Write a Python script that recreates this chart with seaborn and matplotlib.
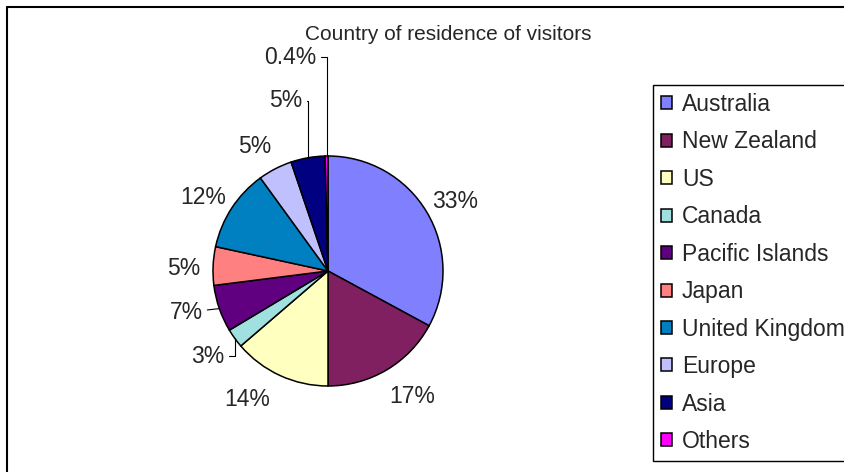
import numpy as np
import seaborn as sns
import matplotlib.pyplot as plt
from matplotlib.lines import Line2D

# data (percent of visitors)
countries = ['Australia', 'New Zealand', 'US', 'Canada', 'Pacific Islands',
             'Japan', 'United Kingdom', 'Europe', 'Asia', 'Others']
shares = [32.9, 17.1, 13.7, 2.7, 6.6, 5.4, 11.6, 4.8, 4.8, 0.4]
colors = ['#8080FF', '#802060', '#FFFFC0', '#A0E0E0', '#600080',
          '#FF8080', '#0080C0', '#C0C0FF', '#000080', '#FF00FF']

sns.set_style('white')
plt.rcParams['font.family'] = ['Liberation Sans', 'DejaVu Sans']
fs = 16.5

fig = plt.figure(figsize=(8.44, 4.72), dpi=100)
W, H = 844, 472
# pie centre (328, 271) px, radius 115 px
R = 115
half = 1.6 * R
ax = fig.add_axes([(328 - half) / W, (H - 271 - half) / H, 2 * half / W, 2 * half / H])

wedges, _ = ax.pie(shares, colors=colors, startangle=90, counterclock=False,
                   wedgeprops=dict(edgecolor='black', linewidth=1.1))
ax.set_xlim(-1.6, 1.6)
ax.set_ylim(-1.6, 1.6)
ax.set_aspect('equal')
ax.axis('off')

def pct(v):
    return f'{v:.0f}%' if v >= 1 else f'{v:.1f}%'

# small nudges so labels sit where Excel put them
nudge = {0: (0.035, -0.035), 1: (0.09, -0.015), 2: (-0.18, 0.02),
         5: (-0.01, -0.035), 6: (-0.035, -0.043), 7: (-0.06, -0.026)}

# labels that sit apart from their slice, with a leader line
moved = {
    3: ((-0.90, -0.74), 'angle,angleA=0,angleB=90,rad=0'),
    4: ((-1.09, -0.36), 'arc3'),
    8: ((-0.22, 1.48), 'angle,angleA=0,angleB=90,rad=0'),
    9: ((-0.10, 1.86), 'angle,angleA=0,angleB=90,rad=0'),
}

for i, w in enumerate(wedges):
    mid = np.deg2rad((w.theta1 + w.theta2) / 2)
    edge = (np.cos(mid), np.sin(mid))
    if i in moved:
        pos, conn = moved[i]
        ax.annotate(pct(shares[i]), xy=edge, xytext=pos, ha='right', va='center',
                    fontsize=fs, annotation_clip=False,
                    arrowprops=dict(arrowstyle='-', color='black', lw=0.8,
                                    connectionstyle=conn, shrinkA=1, shrinkB=0))
    else:
        dx, dy = nudge.get(i, (0, 0))
        ax.text(1.25 * edge[0] + dx, 1.25 * edge[1] + dy, pct(shares[i]),
                ha='center', va='center', fontsize=fs)

fig.text(448 / W, 1 - 35 / H, 'Country of residence of visitors', ha='center',
         va='center', fontsize=15)

leg = fig.legend(wedges, countries, loc='upper left',
                 bbox_to_anchor=(653 / W, 1 - 85 / H), fontsize=fs,
                 frameon=True, fancybox=False, edgecolor='black', framealpha=1,
                 handlelength=0.5, handleheight=0.5, handletextpad=0.42,
                 labelspacing=0.63, borderpad=0.35, borderaxespad=0)
leg.get_frame().set_linewidth(1.0)

# outer chart border (only top and left edges are inside the picture)
fig.add_artist(Line2D([7 / W, 7 / W], [0, 1 - 7 / H], color='black', lw=1.5))
fig.add_artist(Line2D([7 / W, 1], [1 - 7 / H, 1 - 7 / H], color='black', lw=1.5))

fig.savefig('out.png', dpi=100)
